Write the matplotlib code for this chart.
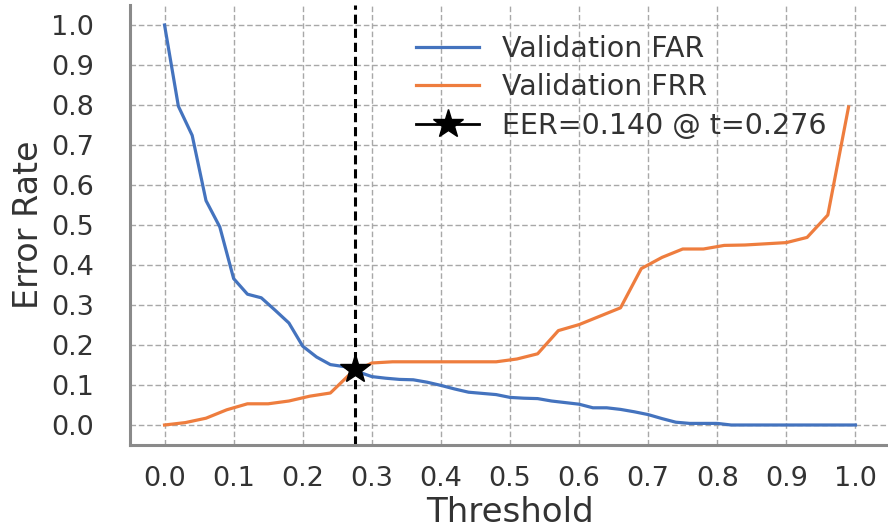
import numpy as np
import matplotlib
matplotlib.use("Agg")
import matplotlib.pyplot as plt

# thresholds and error rates
thr_far = [0.00, 0.02, 0.04, 0.06, 0.08, 0.10, 0.12, 0.14, 0.16, 0.18,
           0.20, 0.22, 0.24, 0.26, 0.28, 0.30, 0.32, 0.34, 0.36, 0.38,
           0.40, 0.42, 0.44, 0.46, 0.48, 0.50, 0.52, 0.54, 0.56, 0.58,
           0.60, 0.62, 0.64, 0.66, 0.68, 0.70, 0.72, 0.74, 0.76, 0.78,
           0.80, 0.82, 0.84, 0.86, 0.88, 0.90, 0.92, 0.94, 0.96, 0.98, 1.00]
far = [1.000, 0.797, 0.724, 0.561, 0.495, 0.366, 0.327, 0.318, 0.287, 0.255,
       0.197, 0.170, 0.151, 0.146, 0.133, 0.121, 0.117, 0.114, 0.113, 0.107,
       0.099, 0.090, 0.082, 0.079, 0.076, 0.069, 0.067, 0.066, 0.060, 0.056,
       0.052, 0.043, 0.043, 0.039, 0.033, 0.026, 0.016, 0.007, 0.004, 0.004,
       0.004, 0.000, 0.000, 0.000, 0.000, 0.000, 0.000, 0.000, 0.000, 0.000, 0.000]

thr_frr = [0.00, 0.03, 0.06, 0.09, 0.12, 0.15, 0.18, 0.21, 0.24, 0.27,
           0.30, 0.33, 0.36, 0.39, 0.42, 0.45, 0.48, 0.51, 0.54, 0.57,
           0.60, 0.63, 0.66, 0.69, 0.72, 0.75, 0.78, 0.81, 0.84, 0.87,
           0.90, 0.93, 0.96, 0.99]
frr = [0.000, 0.006, 0.017, 0.038, 0.053, 0.053, 0.060, 0.072, 0.080, 0.130,
       0.155, 0.158, 0.158, 0.158, 0.158, 0.158, 0.158, 0.165, 0.178, 0.236,
       0.251, 0.272, 0.293, 0.391, 0.419, 0.440, 0.440, 0.449, 0.450, 0.453,
       0.456, 0.469, 0.525, 0.795]

eer = 0.140
eer_t = 0.276

xticks = np.round(np.arange(0, 1.01, 0.1), 1)
yticks = np.round(np.arange(0, 1.01, 0.1), 1)

txt = '#333333'
plt.rcParams['font.family'] = ['DejaVu Sans']

fig = plt.figure(figsize=(8.88, 5.32), dpi=100)
ax = fig.add_axes([130/888, 1-445/532, 760/888, 440/532])

ax.plot(thr_far, far, color='#4473be', lw=2.3, label='Validation FAR')
ax.plot(thr_frr, frr, color='#ee7d3e', lw=2.3, label='Validation FRR')
ax.axvline(eer_t, color='black', ls=(0, (3, 1.6)), lw=2.2)
ax.plot([eer_t], [eer], 'k*-', ms=22, lw=2, label=f'EER={eer:.3f} @ t={eer_t:.3f}')

ax.set_xlim(-0.05, 1.05)
ax.set_ylim(-0.05, 1.05)
ax.set_xticks(xticks)
ax.set_yticks(yticks)
ax.set_xticklabels([f'{v:.1f}' for v in xticks])
ax.set_yticklabels([f'{v:.1f}' for v in yticks])
ax.tick_params(length=0, labelsize=19.5, labelcolor=txt)
ax.tick_params(axis='x', pad=15)
ax.tick_params(axis='y', pad=26)

ax.grid(True, color='#a8a8a8', ls=(0, (4, 2)), lw=1)
ax.set_axisbelow(True)
for s in ['top', 'right']:
    ax.spines[s].set_visible(False)
for s in ['left', 'bottom']:
    ax.spines[s].set_color('#8a8a8a')
    ax.spines[s].set_linewidth(2.2)

ax.set_xlabel('Threshold', fontsize=24.5, color=txt, labelpad=3)
ax.set_ylabel('Error Rate', fontsize=24, color=txt, labelpad=4)

leg = ax.legend(loc='upper left', bbox_to_anchor=(0.343, 0.99), frameon=False,
                fontsize=20.5, handlelength=2.2, labelspacing=0.36)
for t in leg.get_texts():
    t.set_color(txt)

fig.savefig('out.png', dpi=100)
